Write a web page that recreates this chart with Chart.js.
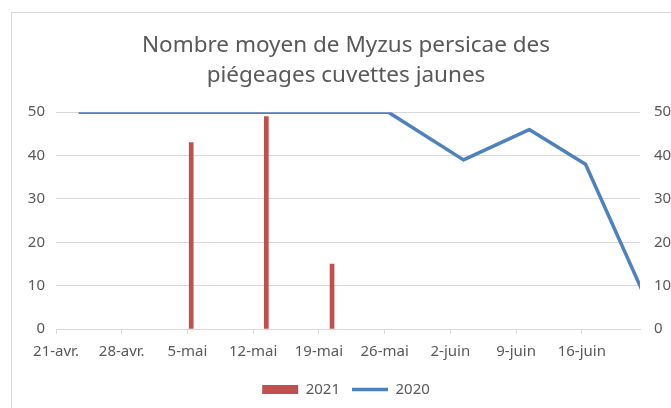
<!DOCTYPE html>
<html lang="fr">
<head>
<meta charset="utf-8">
<title>Myzus persicae</title>
<script src="https://cdn.jsdelivr.net/npm/chart.js@4.4.1/dist/chart.umd.min.js"></script>
<style>
  html, body { margin: 0; padding: 0; overflow: hidden; background: #fff; }
  #wrap { position: relative; width: 692px; height: 408px; }
  #frame { position: absolute; left: 11px; top: 12px; width: 680px; height: 420px;
           border: 1px solid #d9d9d9; box-sizing: border-box; }
  canvas { position: absolute; left: 0; top: 0; }
</style>
</head>
<body>
<div id="wrap">
  <div id="frame"></div>
  <canvas id="chart" width="692" height="408"></canvas>
</div>
<script>
// axis runs from 21-avr. (day 0), one tick per week
const startDate = '04-21';
const tickLabels = ['21-avr.', '28-avr.', '5-mai', '12-mai', '19-mai', '26-mai', '2-juin', '9-juin', '16-juin'];

// 2021 (bars)
const dates2021 = ['05-05', '05-13', '05-20'];
const values2021 = [43, 49, 15];

// 2020 (line)
const dates2020 = ['04-23', '05-26', '06-03', '06-10', '06-16', '06-22'];
const values2020 = [50, 50, 39, 46, 38, 9];

const grey = '#595959';
const gridGrey = '#d9d9d9';
const font = 'Noto Sans';

function dayIndex(md) {
  const [m, d] = md.split('-').map(Number);
  const [m0, d0] = startDate.split('-').map(Number);
  return (Date.UTC(2000, m - 1, d) - Date.UTC(2000, m0 - 1, d0)) / 86400000 + 0.4;
}

const ctx = document.getElementById('chart').getContext('2d');
new Chart(ctx, {
  type: 'bar',
  data: {
    datasets: [{
      type: 'bar',
      label: '2021',
      data: dates2021.map((d, i) => ({ x: dayIndex(d), y: values2021[i] })),
      backgroundColor: '#C0504D',
      barThickness: 4,
      order: 1
    }, {
      type: 'line',
      label: '2020',
      data: dates2020.map((d, i) => ({ x: dayIndex(d), y: values2020[i] })),
      borderColor: '#4F81BD',
      backgroundColor: '#4F81BD',
      borderWidth: 3.5,
      borderJoinStyle: 'round',
      pointRadius: 0,
      tension: 0,
      clip: 0,
      order: 0
    }]
  },
  options: {
    responsive: false,
    animation: false,
    layout: { padding: { left: 0, right: 0, top: 0, bottom: 1 } },
    plugins: {
      tooltip: { enabled: false },
      title: {
        display: true,
        text: ['Nombre moyen de Myzus persicae des', 'piégeages cuvettes jaunes'],
        color: grey,
        font: { family: font, size: 22.5, weight: 'normal', lineHeight: 1.36 },
        padding: { top: 30, bottom: 21 }
      },
      legend: {
        position: 'bottom',
        labels: {
          color: grey,
          font: { family: font, size: 15 },
          usePointStyle: true,
          pointStyleWidth: 36,
          boxHeight: 9,
          padding: 12,
          sort: (a, b) => a.datasetIndex - b.datasetIndex,
          generateLabels: (chart) => {
            const items = Chart.defaults.plugins.legend.labels.generateLabels(chart);
            items.forEach(it => { it.pointStyle = it.datasetIndex === 0 ? 'rect' : 'line'; });
            return items;
          }
        }
      }
    },
    scales: {
      x: {
        type: 'linear',
        min: 0,
        max: 62.2,
        offset: false,
        grid: { offset: false, drawOnChartArea: false, drawTicks: true, tickLength: 5, color: gridGrey },
        border: { color: gridGrey },
        afterBuildTicks: (scale) => { scale.ticks = tickLabels.map((_, i) => ({ value: i * 7 })); },
        ticks: {
          color: grey,
          font: { family: font, size: 15 },
          autoSkip: false,
          maxRotation: 0,
          padding: 9,
          callback: (v) => tickLabels[Math.round(v / 7)]
        },
        afterFit: (scale) => { scale.height = 41; }
      },
      y: {
        position: 'left',
        min: 0,
        max: 50,
        grid: { color: gridGrey, drawTicks: false },
        border: { display: false },
        ticks: { stepSize: 10, color: grey, font: { family: font, size: 15 }, padding: 11 },
        afterFit: (scale) => { scale.width = 56; }
      },
      y2: {
        position: 'right',
        min: 0,
        max: 50,
        grid: { drawOnChartArea: false, drawTicks: false },
        border: { display: false },
        ticks: { stepSize: 10, color: grey, font: { family: font, size: 15 }, padding: 14 },
        afterFit: (scale) => { scale.width = 52; }
      }
    }
  }
});
</script>
</body>
</html>
